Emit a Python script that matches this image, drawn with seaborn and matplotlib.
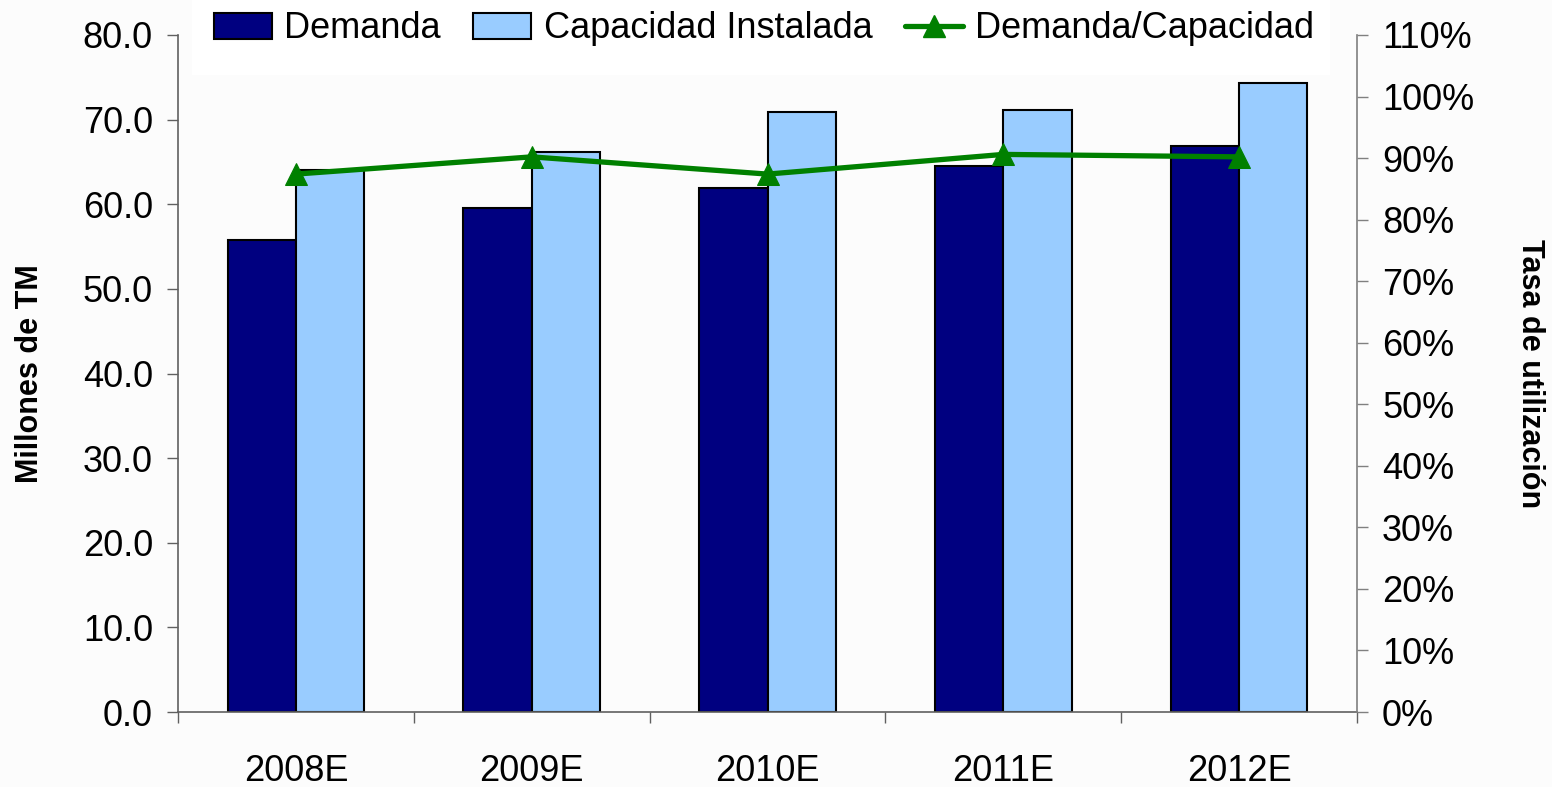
import numpy as np
import pandas as pd
import seaborn as sns
import matplotlib.pyplot as plt
from matplotlib.ticker import FuncFormatter, MultipleLocator, FixedLocator
from matplotlib.lines import Line2D
from matplotlib.patches import Patch, Rectangle

# Data
years = ['2008E', '2009E', '2010E', '2011E', '2012E']
demanda = [55.8, 59.6, 61.9, 64.5, 66.9]
capacidad = [64.0, 66.2, 70.9, 71.1, 74.3]
ratio = [0.874, 0.902, 0.874, 0.906, 0.902]

df = pd.DataFrame({
    'year': years * 2,
    'value': demanda + capacidad,
    'serie': ['Demanda'] * len(years) + ['Capacidad Instalada'] * len(years),
})

sns.set_style('white')
plt.rcParams['font.family'] = ['Liberation Sans', 'DejaVu Sans']
plt.rcParams['text.color'] = 'black'
plt.rcParams['xtick.color'] = 'black'
plt.rcParams['ytick.color'] = 'black'
plt.rcParams['axes.labelcolor'] = 'black'

bg = '#FCFCFC'
dark, light, green = '#000080', '#99CCFF', '#008000'

fig = plt.figure(figsize=(15.52, 7.87), dpi=100, facecolor=bg)
ax = fig.add_axes([178 / 1552, 75 / 787, 1179 / 1552, 677 / 787])
ax.set_facecolor(bg)

sns.barplot(data=df, x='year', y='value', hue='serie',
            palette=[dark, light], saturation=1, width=0.58,
            edgecolor='black', linewidth=1.5, ax=ax, legend=False)

ax.set_xlim(-0.5, len(years) - 0.5)
ax.set_ylim(0, 80)
ax.yaxis.set_major_locator(MultipleLocator(10))
ax.yaxis.set_major_formatter(FuncFormatter(lambda v, p: f'{v:.1f}'))
ax.tick_params(axis='y', labelsize=26, length=8, width=1, color='#606060',
               pad=10, left=True)
ax.tick_params(axis='x', which='major', labelsize=26, length=0, pad=30)
ax.xaxis.set_minor_locator(FixedLocator(np.arange(-0.5, len(years), 1.0)))
ax.tick_params(axis='x', which='minor', length=8, width=1, color='#606060',
               bottom=True)
ax.set_xlabel('')
ax.set_ylabel('Millones de TM', fontsize=22, fontweight='bold')
ax.yaxis.set_label_coords(-0.1255, 0.5)
ax.yaxis.label.set_verticalalignment('center')

for side in ['left', 'bottom']:
    ax.spines[side].set_color('#606060')
    ax.spines[side].set_linewidth(1.2)
ax.spines['top'].set_visible(False)
ax.spines['right'].set_visible(False)

ax2 = ax.twinx()
sns.lineplot(x=np.arange(len(years)), y=ratio, color=green, linewidth=3.8,
             marker='^', markersize=16, markeredgecolor=green, ax=ax2)
ax2.set_ylim(0, 1.1)
ax2.yaxis.set_major_locator(MultipleLocator(0.1))
ax2.yaxis.set_major_formatter(FuncFormatter(lambda v, p: f'{v * 100:.0f}%'))
ax2.tick_params(axis='y', labelsize=26, length=8, width=1, color='#808080',
                pad=10, right=True)
ax2.set_ylabel('Tasa de utilización', fontsize=22, fontweight='bold', rotation=-90)
ax2.yaxis.set_label_coords(1.1468, 0.5)
ax2.yaxis.label.set_verticalalignment('center')
ax2.spines['top'].set_visible(False)
ax2.spines['left'].set_visible(False)
ax2.spines['bottom'].set_visible(False)
ax2.spines['right'].set_color('#808080')
ax2.spines['right'].set_linewidth(1.2)

# white band behind the legend, covering the top of the plot
fig.patches.append(Rectangle((192 / 1552, 1 - 75 / 787), 1138 / 1552, 75 / 787,
                             transform=fig.transFigure, facecolor='white',
                             edgecolor='none', zorder=5))

handles = [
    Patch(facecolor=dark, edgecolor='black', linewidth=1.5, label='Demanda'),
    Patch(facecolor=light, edgecolor='black', linewidth=1.5, label='Capacidad Instalada'),
    Line2D([0], [0], color=green, linewidth=3.8, marker='^', markersize=16,
           label='Demanda/Capacidad'),
]
leg = fig.legend(handles=handles, loc='center', bbox_to_anchor=(0.4923, 1 - 29 / 787),
                 ncol=3, fontsize=26, frameon=False,
                 handlelength=1.6, handleheight=0.7, handletextpad=0.35,
                 columnspacing=0.9)
leg.set_zorder(6)

fig.savefig('out.png', dpi=100, facecolor=bg)
